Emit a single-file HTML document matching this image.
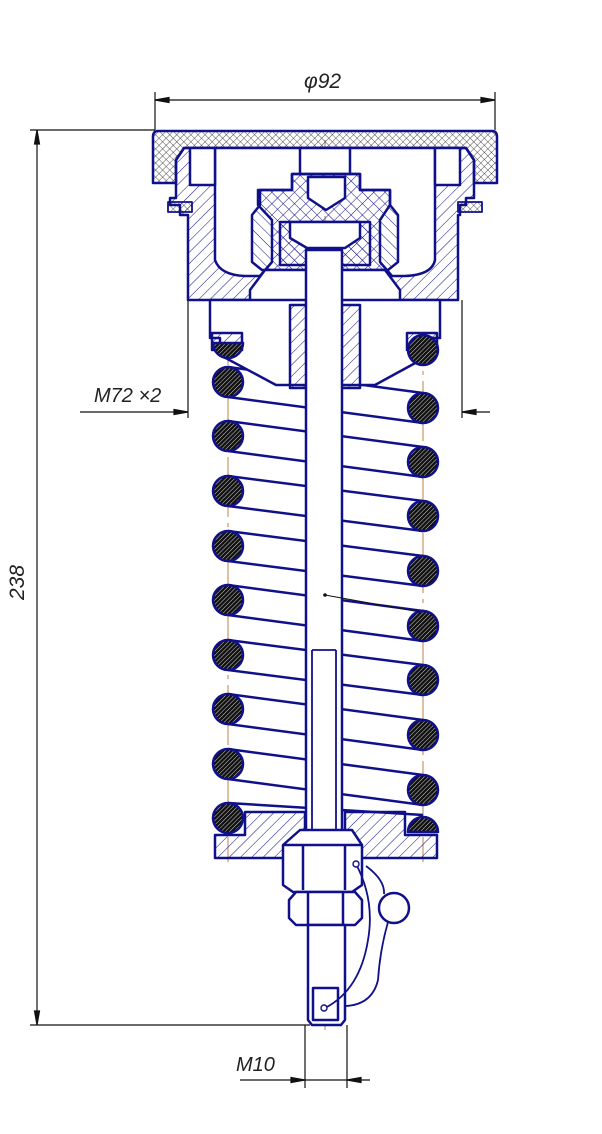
<!DOCTYPE html>
<html><head><meta charset="utf-8"><style>
html,body{margin:0;padding:0;background:#fff;}
svg{display:block;}
text{font-family:"Liberation Sans",sans-serif;font-style:italic;fill:#222;}
</style></head><body>
<svg width="602" height="1134" viewBox="0 0 602 1134" xmlns="http://www.w3.org/2000/svg">
<defs>
<pattern id="h1" width="8" height="8" patternUnits="userSpaceOnUse" patternTransform="rotate(45)"><line x1="0" y1="0" x2="0" y2="8" stroke="#10108a" stroke-width="1"/></pattern>
<pattern id="h2" width="8" height="8" patternUnits="userSpaceOnUse" patternTransform="rotate(-45)"><line x1="0" y1="0" x2="0" y2="8" stroke="#10108a" stroke-width="1"/></pattern>
<pattern id="xh" width="5" height="5" patternUnits="userSpaceOnUse" patternTransform="rotate(45)"><path d="M0 0V5M0 0H5" stroke="#222" stroke-width="0.8"/></pattern>
<pattern id="sp" width="3" height="3" patternUnits="userSpaceOnUse" patternTransform="rotate(45)"><rect width="3" height="3" fill="#111"/><line x1="0" y1="0" x2="0" y2="3" stroke="#fff" stroke-width="0.8"/></pattern>
</defs>
<g stroke="#111" stroke-width="1.2" fill="none">
<line x1="155" y1="92" x2="155" y2="130"/><line x1="495" y1="92" x2="495" y2="130"/>
<line x1="155" y1="100" x2="495" y2="100"/>
<path d="M155 100l14 -2.5v5z M495 100l-14 -2.5v5z" fill="#111"/>
<line x1="30" y1="130" x2="155" y2="130"/><line x1="30" y1="1025" x2="310" y2="1025"/>
<line x1="37" y1="130" x2="37" y2="1025"/>
<path d="M37 130l-2.5 14h5z M37 1025l-2.5 -14h5z" fill="#111"/>
<line x1="188" y1="300" x2="188" y2="418"/><line x1="462" y1="300" x2="462" y2="418"/>
<line x1="80" y1="412" x2="188" y2="412"/><line x1="462" y1="412" x2="490" y2="412"/>
<path d="M188 412l-14 -2.5v5z M462 412l14 -2.5v5z" fill="#111"/>
<line x1="305" y1="1025" x2="305" y2="1088"/><line x1="347" y1="1025" x2="347" y2="1088"/>
<line x1="240" y1="1080" x2="370" y2="1080"/>
<path d="M305 1080l-14 -2.5v5z M347 1080l14 -2.5v5z" fill="#111"/>
</g>
<text x="304" y="88" font-size="21">φ92</text>
<text x="94" y="402" font-size="20">M72 ×2</text>
<text x="236" y="1071" font-size="20">M10</text>
<text transform="translate(24,600) rotate(-90)" font-size="21">238</text>

<g stroke="#c08040" stroke-width="1" fill="none">
<line x1="325" y1="140" x2="325" y2="1030" stroke-dasharray="60 6 4 6"/>
<line x1="228" y1="305" x2="228" y2="862" stroke-dasharray="60 6 4 6"/>
<line x1="423" y1="305" x2="423" y2="862" stroke-dasharray="60 6 4 6"/>
</g>

<g stroke="#10108a" stroke-width="2.5" stroke-linejoin="round">
<g fill="none">
<line x1="228" y1="367" x2="423" y2="393"/><line x1="228" y1="397" x2="423" y2="423"/>
<line x1="228" y1="421" x2="423" y2="447"/><line x1="228" y1="451" x2="423" y2="477"/>
<line x1="228" y1="476" x2="423" y2="501"/><line x1="228" y1="506" x2="423" y2="531"/>
<line x1="228" y1="531" x2="423" y2="556"/><line x1="228" y1="561" x2="423" y2="586"/>
<line x1="228" y1="585" x2="423" y2="611"/><line x1="228" y1="615" x2="423" y2="641"/>
<line x1="228" y1="640" x2="423" y2="665"/><line x1="228" y1="670" x2="423" y2="695"/>
<line x1="228" y1="694" x2="423" y2="720"/><line x1="228" y1="724" x2="423" y2="750"/>
<line x1="228" y1="749" x2="423" y2="775"/><line x1="228" y1="779" x2="423" y2="805"/>
<line x1="228" y1="803" x2="423" y2="815"/>
</g>
<path d="M158 131H492Q497 131 497 137V183H474V160L466 148H184L176 160V183H153V137Q153 131 158 131Z" fill="url(#xh)"/>
<path d="M184 148H466L474 160V198H466V205H460V215H458V300H188V215H180V205H170V198H176V160Z" fill="url(#h1)"/>
<path d="M215 148V260Q220 275 245 276H260L272 262V220L258 205V190H292V174H360V190H390V205L380 220V262L392 276H405Q432 275 435 260V148Z" fill="#fff"/>
<path d="M190 148V185H215V148Z M435 148V185H460V148Z" fill="#fff"/>
<path d="M300 148H350V174H300Z" fill="#fff"/>
<path d="M292 174H360V190H390V205L398 215V262L388 270H262L252 262V215L260 205V190H292Z" fill="url(#h2)"/>
<path d="M308 177H345V198L326 210L308 198Z" fill="#fff"/>
<path d="M280 222H370V265H280Z" fill="url(#h2)"/>
<path d="M290 222H360V238L345 248H307L290 238Z" fill="#fff"/>
<path d="M168 202H192V212H168Z M458 202H482V212H458Z" fill="url(#xh)" stroke-width="1.8"/>
<path d="M265 270H385L400 290V305H250V290Z" fill="#fff"/>
<path d="M210 300H440V338H430V355L375 385H276L220 355V338H210Z" fill="#fff"/>
<path d="M212 333H242V350H212Z M407 333H437V350H407Z" fill="url(#h1)"/>
<path d="M290 305H360V388H290Z" fill="url(#h1)"/>
<g fill="url(#sp)">
<path d="M213 343A15 15 0 0 0 243 343Z"/>
<circle cx="228" cy="382" r="15"/><circle cx="228" cy="436" r="15"/><circle cx="228" cy="491" r="15"/>
<circle cx="228" cy="546" r="15"/><circle cx="228" cy="600" r="15"/><circle cx="228" cy="655" r="15"/>
<circle cx="228" cy="709" r="15"/><circle cx="228" cy="764" r="15"/><circle cx="228" cy="818" r="15"/>
<circle cx="423" cy="350" r="15"/><circle cx="423" cy="408" r="15"/><circle cx="423" cy="462" r="15"/>
<circle cx="423" cy="516" r="15"/><circle cx="423" cy="571" r="15"/><circle cx="423" cy="626" r="15"/>
<circle cx="423" cy="680" r="15"/><circle cx="423" cy="735" r="15"/><circle cx="423" cy="790" r="15"/>
<path d="M408 832A15 15 0 0 1 438 832Z"/>
</g>
<path d="M306 250H342V840H306Z" fill="#fff"/>
<line x1="312" y1="650" x2="312" y2="840" stroke-width="1.8"/><line x1="336" y1="650" x2="336" y2="840" stroke-width="1.8"/>
<line x1="312" y1="650" x2="336" y2="650" stroke-width="1.8"/>
<path d="M245 812H305V840L290 858H215V835H245Z M345 812H405V835H437V858H360L345 840Z" fill="url(#h1)"/>
<path d="M300 830H352L362 845V885L352 892H293L283 885V845Z" fill="#fff"/>
<path d="M303 845V890M345 845V890M283 845H362" fill="none"/>
<path d="M296 892H355L362 900V918L355 925H296L289 918V900Z" fill="#fff"/>
<path d="M308 892V925M343 892V925" fill="none"/>
<path d="M308 925H345V1020L341 1025H312L308 1020Z" fill="#fff"/>
<path d="M313 988H338V1020H313Z" fill="none"/>
<circle cx="394" cy="908" r="15" fill="#fff"/>
<path d="M356 864Q375 900 368 940Q360 990 325 1008" fill="none" stroke-width="1.8"/>
<path d="M366 866Q385 880 384 894 M388 922Q380 950 378 980Q372 1005 345 1006" fill="none" stroke-width="1.8"/>
<circle cx="356" cy="864" r="3" fill="#fff" stroke-width="1.4"/>
<circle cx="324" cy="1008" r="3" fill="#fff" stroke-width="1.4"/>
</g>
<line x1="325" y1="595" x2="420" y2="612" stroke="#111" stroke-width="1"/>
<circle cx="325" cy="595" r="1.8" fill="#111"/>
</svg>
</body></html>
